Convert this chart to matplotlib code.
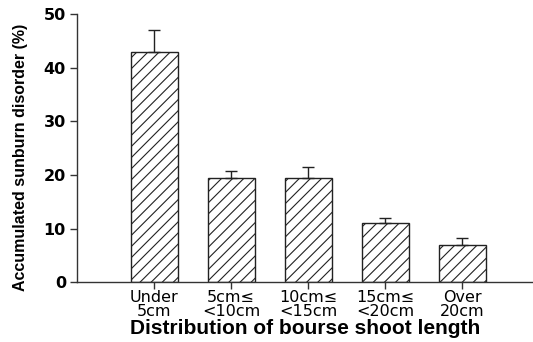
import numpy as np
import matplotlib
matplotlib.use("Agg")
import matplotlib.pyplot as plt

# data
categories = ["Under\n5cm", "5cm\u2264\n<10cm", "10cm\u2264\n<15cm", "15cm\u2264\n<20cm", "Over\n20cm"]
sunburn = [43.0, 19.5, 19.5, 11.0, 6.9]
sunburn_err = [4.0, 1.2, 2.0, 1.0, 1.4]

plt.rcParams['font.family'] = ['Liberation Sans', 'DejaVu Sans']
plt.rcParams['hatch.linewidth'] = 0.8

fig = plt.figure(figsize=(5.33, 3.42), dpi=100)
ax = fig.add_axes([0.1445, 0.175, 0.8555, 0.784])

x = np.arange(len(categories))
ax.bar(x, sunburn, width=0.61, color='white', edgecolor='#222222',
       linewidth=1.0, hatch='///', zorder=2)
ax.errorbar(x, sunburn, yerr=[np.zeros(len(x)), sunburn_err], fmt='none',
            ecolor='#222222', elinewidth=1.0, capsize=4, capthick=1.0, zorder=3)

ax.set_xlim(-1, 4.92)
ax.set_ylim(0, 50)
ax.set_yticks([0, 10, 20, 30, 40, 50])
ax.set_xticks(x)
ax.set_xticklabels(categories, fontsize=11.5, linespacing=0.85, family='DejaVu Sans')
for lab in ax.get_yticklabels():
    lab.set_family('DejaVu Sans')
    lab.set_fontweight('bold')
    lab.set_fontsize(11.5)

for side in ['top', 'right']:
    ax.spines[side].set_visible(False)
for side in ['left', 'bottom']:
    ax.spines[side].set_linewidth(1.0)
    ax.spines[side].set_color('#333333')
ax.tick_params(axis='both', direction='out', length=5, width=1.0, color='#333333')
ax.tick_params(axis='y', pad=3)
ax.tick_params(axis='x', pad=1)

ax.set_ylabel('Accumulated sunburn disorder (%)', fontsize=11.5, fontweight='bold')
ax.yaxis.set_label_coords(-0.108, 0.466)
ax.set_xlabel('Distribution of bourse shoot length', fontsize=15, fontweight='bold', labelpad=0)

fig.savefig('out.png', dpi=100)
